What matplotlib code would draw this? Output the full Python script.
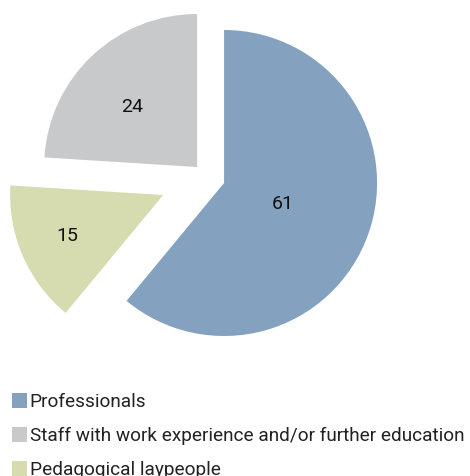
import numpy as np
import matplotlib.pyplot as plt

# staff composition (percent)
categories = ['Professionals',
              'Staff with work experience and/or further education',
              'Pedagogical laypeople']
shares = [61, 24, 15]
colors = ['#84A1BF', '#C8C9CB', '#D7DBB0']
explode = [19.2, 13.0, 46.7]  # pull-out distance in px
label_dist = [0.41, 0.58, 0.68]
label_turn = [0, 4, 0]  # degrees added to the mid angle of each label

plt.rcParams['font.family'] = ['Roboto', 'DejaVu Sans']

W, H = 470, 476
R = 153
fig = plt.figure(figsize=(W / 100, H / 100), dpi=100)
ax = fig.add_axes([0, 0, 1, 1])

# blue slice ends at 12 o'clock, the rest follow counter-clockwise
start = 90 + 360 * sum(shares[1:]) / sum(shares)
wedges, _ = ax.pie(shares, colors=colors, explode=explode, radius=R,
                   center=(206, -176.5), startangle=start, counterclock=True,
                   wedgeprops={'linewidth': 0})

for w, val, d, turn in zip(wedges, shares, label_dist, label_turn):
    mid = np.deg2rad((w.theta1 + w.theta2) / 2 + turn)
    cx, cy = w.center
    ax.text(cx + d * R * np.cos(mid), cy + d * R * np.sin(mid), str(val),
            ha='center', va='center', fontsize=14, color='#111111')

ax.set_xlim(0, W)
ax.set_ylim(-H, 0)
ax.axis('off')

leg = ax.legend(wedges, categories, loc='upper left',
                bbox_to_anchor=(12 / W, 1 - 393 / H), frameon=False,
                fontsize=13.7, handlelength=0.8, handleheight=0.85,
                handletextpad=0.12, labelspacing=0.82, borderaxespad=0,
                borderpad=0)
for t in leg.get_texts():
    t.set_color('#222222')

fig.savefig('out.png', dpi=100)
